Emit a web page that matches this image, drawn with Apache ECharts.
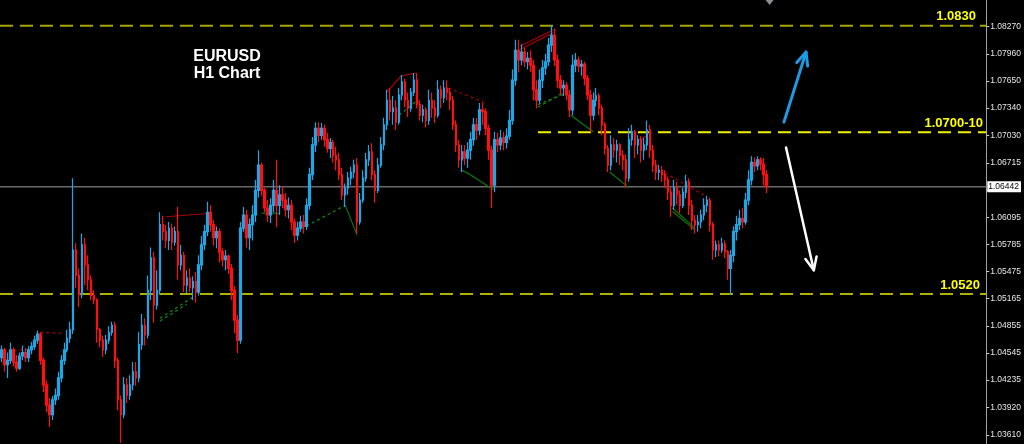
<!DOCTYPE html>
<html><head><meta charset="utf-8">
<script src="https://cdn.jsdelivr.net/npm/echarts@6/dist/echarts.min.js"></script>
<style>html,body{margin:0;padding:0;background:#000;}#c{width:1024px;height:444px;}</style>
</head><body><div id="c"></div>
<script>
// EURUSD H1 candles: [open, close, low, high]
const ohlc = [
[1.0449,1.0458,1.0444,1.0463],[1.0458,1.0441,1.0433,1.0460],[1.0441,1.0446,1.0426,1.0455],[1.0446,1.0458,1.0442,1.0466],
[1.0458,1.0444,1.0439,1.0461],[1.0444,1.0437,1.0433,1.0452],[1.0437,1.0451,1.0435,1.0455],[1.0451,1.0455,1.0446,1.0463],
[1.0455,1.0449,1.0444,1.0460],[1.0449,1.0458,1.0444,1.0462],[1.0458,1.0462,1.0453,1.0467],[1.0462,1.0469,1.0458,1.0474],
[1.0469,1.0476,1.0465,1.0480],[1.0476,1.0446,1.0441,1.0478],[1.0446,1.0418,1.0410,1.0449],[1.0418,1.0395,1.0387,1.0423],
[1.0395,1.0384,1.0370,1.0403],[1.0384,1.0401,1.0378,1.0405],[1.0401,1.0406,1.0395,1.0414],[1.0406,1.0426,1.0401,1.0433],
[1.0426,1.0446,1.0421,1.0452],[1.0446,1.0458,1.0441,1.0466],[1.0458,1.0471,1.0455,1.0481],[1.0471,1.0481,1.0466,1.0490],
[1.0481,1.0572,1.0476,1.0654],[1.0572,1.0543,1.0529,1.0580],[1.0543,1.0521,1.0507,1.0551],[1.0521,1.0578,1.0517,1.0591],
[1.0578,1.0555,1.0532,1.0586],[1.0555,1.0538,1.0526,1.0566],[1.0538,1.0520,1.0515,1.0543],[1.0520,1.0515,1.0510,1.0526],
[1.0515,1.0481,1.0466,1.0517],[1.0481,1.0469,1.0461,1.0483],[1.0469,1.0458,1.0450,1.0474],[1.0458,1.0469,1.0453,1.0475],
[1.0469,1.0478,1.0465,1.0485],[1.0478,1.0486,1.0474,1.0490],[1.0486,1.0446,1.0437,1.0490],[1.0446,1.0401,1.0389,1.0449],
[1.0401,1.0384,1.0352,1.0406],[1.0384,1.0418,1.0380,1.0427],[1.0418,1.0406,1.0397,1.0426],[1.0406,1.0418,1.0401,1.0429],
[1.0418,1.0433,1.0412,1.0444],[1.0433,1.0426,1.0417,1.0444],[1.0426,1.0464,1.0421,1.0478],[1.0464,1.0486,1.0458,1.0499],
[1.0486,1.0475,1.0463,1.0494],[1.0475,1.0526,1.0471,1.0543],[1.0526,1.0563,1.0515,1.0575],[1.0563,1.0509,1.0489,1.0570],
[1.0509,1.0526,1.0504,1.0549],[1.0526,1.0601,1.0521,1.0615],[1.0601,1.0593,1.0583,1.0611],[1.0593,1.0583,1.0574,1.0601],
[1.0583,1.0597,1.0572,1.0604],[1.0597,1.0581,1.0572,1.0602],[1.0581,1.0593,1.0577,1.0599],[1.0593,1.0555,1.0538,1.0621],
[1.0555,1.0566,1.0549,1.0578],[1.0566,1.0532,1.0524,1.0570],[1.0532,1.0540,1.0523,1.0549],[1.0540,1.0529,1.0524,1.0551],
[1.0529,1.0536,1.0515,1.0542],[1.0536,1.0524,1.0512,1.0547],[1.0524,1.0555,1.0520,1.0566],[1.0555,1.0578,1.0549,1.0588],
[1.0578,1.0593,1.0572,1.0601],[1.0593,1.0615,1.0588,1.0627],[1.0615,1.0601,1.0593,1.0623],[1.0601,1.0586,1.0577,1.0606],
[1.0586,1.0593,1.0574,1.0599],[1.0593,1.0570,1.0558,1.0597],[1.0570,1.0561,1.0553,1.0574],[1.0561,1.0565,1.0549,1.0572],
[1.0565,1.0551,1.0545,1.0567],[1.0551,1.0526,1.0515,1.0556],[1.0526,1.0492,1.0477,1.0531],[1.0492,1.0469,1.0454,1.0498],
[1.0469,1.0597,1.0465,1.0604],[1.0597,1.0612,1.0593,1.0621],[1.0612,1.0586,1.0575,1.0618],[1.0586,1.0601,1.0572,1.0608],
[1.0601,1.0612,1.0583,1.0623],[1.0612,1.0640,1.0604,1.0652],[1.0640,1.0669,1.0632,1.0686],[1.0669,1.0640,1.0634,1.0672],
[1.0640,1.0620,1.0615,1.0643],[1.0620,1.0612,1.0604,1.0629],[1.0612,1.0623,1.0603,1.0631],[1.0623,1.0640,1.0615,1.0652],
[1.0640,1.0623,1.0598,1.0675],[1.0623,1.0635,1.0612,1.0646],[1.0635,1.0629,1.0620,1.0645],[1.0629,1.0618,1.0610,1.0637],
[1.0618,1.0623,1.0608,1.0632],[1.0623,1.0604,1.0595,1.0629],[1.0604,1.0589,1.0580,1.0608],[1.0589,1.0597,1.0583,1.0604],
[1.0597,1.0604,1.0593,1.0611],[1.0604,1.0599,1.0591,1.0612],[1.0599,1.0623,1.0595,1.0631],[1.0623,1.0658,1.0618,1.0666],
[1.0658,1.0692,1.0652,1.0701],[1.0692,1.0711,1.0684,1.0718],[1.0711,1.0703,1.0695,1.0718],[1.0703,1.0711,1.0698,1.0717],
[1.0711,1.0698,1.0690,1.0715],[1.0698,1.0688,1.0683,1.0706],[1.0688,1.0695,1.0677,1.0700],[1.0695,1.0680,1.0672,1.0698],
[1.0680,1.0675,1.0663,1.0690],[1.0675,1.0658,1.0652,1.0683],[1.0658,1.0635,1.0629,1.0666],[1.0635,1.0643,1.0621,1.0648],
[1.0643,1.0654,1.0635,1.0661],[1.0654,1.0661,1.0646,1.0667],[1.0661,1.0669,1.0654,1.0675],[1.0669,1.0604,1.0591,1.0677],
[1.0604,1.0629,1.0601,1.0637],[1.0629,1.0654,1.0626,1.0663],[1.0654,1.0675,1.0650,1.0683],[1.0675,1.0684,1.0668,1.0692],
[1.0684,1.0658,1.0652,1.0694],[1.0658,1.0640,1.0626,1.0663],[1.0640,1.0669,1.0637,1.0677],[1.0669,1.0692,1.0666,1.0701],
[1.0692,1.0715,1.0686,1.0723],[1.0715,1.0743,1.0709,1.0755],[1.0743,1.0730,1.0720,1.0757],[1.0730,1.0734,1.0715,1.0748],
[1.0734,1.0718,1.0709,1.0743],[1.0718,1.0749,1.0715,1.0757],[1.0749,1.0764,1.0743,1.0772],[1.0764,1.0743,1.0735,1.0768],
[1.0743,1.0734,1.0724,1.0752],[1.0734,1.0752,1.0730,1.0757],[1.0752,1.0766,1.0748,1.0774],[1.0766,1.0738,1.0734,1.0774],
[1.0738,1.0726,1.0720,1.0743],[1.0726,1.0732,1.0718,1.0738],[1.0732,1.0720,1.0712,1.0735],[1.0720,1.0743,1.0715,1.0755],
[1.0743,1.0734,1.0723,1.0752],[1.0734,1.0726,1.0717,1.0743],[1.0726,1.0755,1.0723,1.0766],[1.0755,1.0746,1.0734,1.0760],
[1.0746,1.0757,1.0740,1.0766],[1.0757,1.0752,1.0743,1.0766],[1.0752,1.0743,1.0732,1.0757],[1.0743,1.0715,1.0709,1.0748],
[1.0715,1.0692,1.0684,1.0720],[1.0692,1.0675,1.0666,1.0698],[1.0675,1.0684,1.0661,1.0692],[1.0684,1.0677,1.0669,1.0692],
[1.0677,1.0686,1.0666,1.0695],[1.0686,1.0698,1.0675,1.0707],[1.0698,1.0715,1.0691,1.0723],[1.0715,1.0709,1.0698,1.0723],
[1.0709,1.0732,1.0703,1.0740],[1.0732,1.0730,1.0715,1.0740],[1.0730,1.0711,1.0703,1.0734],[1.0711,1.0686,1.0675,1.0715],
[1.0686,1.0646,1.0620,1.0691],[1.0646,1.0698,1.0638,1.0707],[1.0698,1.0692,1.0684,1.0706],[1.0692,1.0700,1.0686,1.0709],
[1.0700,1.0695,1.0686,1.0707],[1.0695,1.0702,1.0688,1.0711],[1.0702,1.0720,1.0698,1.0732],[1.0720,1.0766,1.0715,1.0778],
[1.0766,1.0800,1.0760,1.0812],[1.0800,1.0789,1.0775,1.0812],[1.0789,1.0798,1.0783,1.0807],[1.0798,1.0787,1.0781,1.0803],
[1.0787,1.0791,1.0778,1.0798],[1.0791,1.0783,1.0775,1.0800],[1.0783,1.0755,1.0743,1.0789],[1.0755,1.0743,1.0734,1.0766],
[1.0743,1.0766,1.0739,1.0778],[1.0766,1.0780,1.0757,1.0789],[1.0780,1.0787,1.0772,1.0796],[1.0787,1.0806,1.0782,1.0814],
[1.0806,1.0817,1.0798,1.0829],[1.0817,1.0789,1.0782,1.0825],[1.0789,1.0766,1.0757,1.0795],[1.0766,1.0757,1.0749,1.0772],
[1.0757,1.0760,1.0748,1.0766],[1.0760,1.0749,1.0743,1.0764],[1.0749,1.0732,1.0724,1.0755],[1.0732,1.0783,1.0726,1.0795],
[1.0783,1.0789,1.0775,1.0797],[1.0789,1.0782,1.0775,1.0793],[1.0782,1.0784,1.0771,1.0789],[1.0784,1.0768,1.0760,1.0787],
[1.0768,1.0749,1.0743,1.0772],[1.0749,1.0726,1.0707,1.0755],[1.0726,1.0743,1.0720,1.0752],[1.0743,1.0748,1.0736,1.0757],
[1.0748,1.0734,1.0726,1.0751],[1.0734,1.0715,1.0703,1.0738],[1.0715,1.0688,1.0681,1.0718],[1.0688,1.0669,1.0661,1.0692],
[1.0669,1.0692,1.0663,1.0703],[1.0692,1.0686,1.0677,1.0700],[1.0686,1.0692,1.0672,1.0698],[1.0692,1.0680,1.0669,1.0694],
[1.0680,1.0675,1.0663,1.0686],[1.0675,1.0654,1.0643,1.0681],[1.0654,1.0698,1.0650,1.0711],[1.0698,1.0707,1.0691,1.0715],
[1.0707,1.0692,1.0677,1.0709],[1.0692,1.0698,1.0681,1.0703],[1.0698,1.0686,1.0672,1.0702],[1.0686,1.0692,1.0675,1.0700],
[1.0692,1.0709,1.0686,1.0720],[1.0709,1.0686,1.0677,1.0715],[1.0686,1.0669,1.0661,1.0692],[1.0669,1.0661,1.0652,1.0675],
[1.0661,1.0663,1.0652,1.0669],[1.0663,1.0658,1.0650,1.0668],[1.0658,1.0652,1.0643,1.0663],[1.0652,1.0638,1.0629,1.0656],
[1.0638,1.0623,1.0610,1.0643],[1.0623,1.0643,1.0618,1.0652],[1.0643,1.0635,1.0624,1.0650],[1.0635,1.0623,1.0614,1.0640],
[1.0623,1.0638,1.0620,1.0643],[1.0638,1.0650,1.0631,1.0658],[1.0650,1.0623,1.0612,1.0654],[1.0623,1.0606,1.0595,1.0629],
[1.0606,1.0601,1.0591,1.0612],[1.0601,1.0604,1.0593,1.0612],[1.0604,1.0612,1.0597,1.0618],[1.0612,1.0623,1.0606,1.0631],
[1.0623,1.0629,1.0615,1.0634],[1.0629,1.0601,1.0593,1.0632],[1.0601,1.0572,1.0561,1.0604],[1.0572,1.0578,1.0564,1.0583],
[1.0578,1.0572,1.0565,1.0583],[1.0572,1.0579,1.0569,1.0586],[1.0579,1.0570,1.0563,1.0583],[1.0570,1.0551,1.0538,1.0572],
[1.0551,1.0566,1.0521,1.0572],[1.0566,1.0593,1.0558,1.0599],[1.0593,1.0601,1.0583,1.0611],[1.0601,1.0608,1.0595,1.0618],
[1.0608,1.0604,1.0597,1.0620],[1.0604,1.0629,1.0601,1.0637],[1.0629,1.0652,1.0623,1.0663],[1.0652,1.0672,1.0646,1.0679],
[1.0672,1.0668,1.0661,1.0678],[1.0668,1.0675,1.0663,1.0679],[1.0675,1.0670,1.0663,1.0678],[1.0670,1.0658,1.0646,1.0677],
[1.0658,1.06442,1.0637,1.0663]
];
const slotCount = 330;            // hourly slots on the time axis (incl. right chart shift)
const yTickValues = [1.08270,1.07960,1.07650,1.07340,1.07030,1.06715,1.06405,1.06095,1.05785,1.05475,1.05165,1.04855,1.04545,1.04235,1.03920,1.03610];
const yMin = 1.03505, yMax = 1.08575;
const bidPrice = 1.06442;
const levelValues = [1.0828, 1.07064, 1.05218];
const levelLabels = ['1.0830', '1.0700-10', '1.0520'];
const levelStartSlot = [-0.5, 179.5, -0.5];
// indicator trend lines: [slot, price] points
const redSolid = [
 [[55,1.0610],[70,1.0614]],
 [[128.8,1.0752],[133.8,1.0771],[138.5,1.0774]],
 [[173.5,1.0805],[184.5,1.0823]],
 [[173.5,1.0801],[184.5,1.0820]],
 [[213.5,1.0698],[216.2,1.0703]]
];
const redDashed = [
 [[4,1.0458],[10,1.0458]],
 [[13,1.0478],[20.5,1.0477]],
 [[149.5,1.0757],[162,1.0740]],
 [[222,1.0660],[236,1.0633]]
];
const greenSolid = [
 [[87,1.0614],[93,1.0614]],
 [[115,1.0623],[119,1.0589]],
 [[154,1.0663],[156,1.0660],[164.5,1.0641]],
 [[190.5,1.0726],[198,1.0707]],
 [[203.5,1.0661],[210,1.0643]],
 [[224.5,1.0620],[232,1.0597]],
 [[224.5,1.0616],[232,1.0595]]
];
const greenDashed = [
 [[53,1.0494],[64,1.0518]],
 [[53,1.0491],[62,1.0510]],
 [[98.5,1.0593],[115,1.0623]],
 [[133,1.0726],[138.5,1.0741]],
 [[179.5,1.0738],[189.5,1.0752]],
 [[179.5,1.0735],[187,1.0750]]
];
const arrowUp = [[261.8,1.0718],[269.2,1.0798]];
const arrowDown = [[262.5,1.0689],[271.8,1.0549]];
const titleLines = ['EURUSD', 'H1 Chart'];

const categories = Array.from({length: slotCount}, (_, i) => String(i));

const chart = echarts.init(document.getElementById('c'), null, {renderer: 'canvas'});
const BULL = '#1ea7e6', BEAR = '#ff1010';
function trend(list, color, type, width) {
  return list.map(pts => ({
    type: 'line', xAxisIndex: 1, yAxisIndex: 0, data: pts, symbol: 'none', silent: true,
    lineStyle: {color: color, width: width, type: type}, z: 4, animation: false
  }));
}
const levelColors = ['#a6a600', '#f2f200', '#b0b000'];
const levelSeries = levelValues.map((v, k) => ({
  type: 'line', xAxisIndex: 1, yAxisIndex: 0, symbol: 'none', silent: true, animation: false,
  data: [[levelStartSlot[k], v], [slotCount - 0.5, v]],
  lineStyle: {color: levelColors[k], width: 2, type: [13, 7]}, z: 3
}));
const option = {
  backgroundColor: '#000000',
  animation: false,
  grid: {left: 0, right: 34, top: 0, bottom: 0, containLabel: false},
  xAxis: [
    {type: 'category', data: categories, boundaryGap: true, show: false},
    {type: 'value', min: -0.5, max: slotCount - 0.5, show: false}
  ],
  yAxis: {
    type: 'value', position: 'right', min: yMin, max: yMax, scale: true,
    splitLine: {show: false},
    axisLine: {show: true, onZero: false, lineStyle: {color: '#a0a0a0', width: 1}},
    axisTick: {show: true, length: 3, inside: false, customValues: yTickValues, lineStyle: {color: '#c8c8c8'}},
    axisLabel: {show: true, customValues: yTickValues, margin: 4, color: '#e6e6e6',
      fontFamily: 'Liberation Sans', fontSize: 8.5, formatter: v => v.toFixed(5)}
  },
  series: [
    {
      type: 'candlestick', xAxisIndex: 0, yAxisIndex: 0, data: ohlc, barWidth: 2, z: 5,
      itemStyle: {color: BULL, color0: BEAR, borderColor: BULL, borderColor0: BEAR, borderWidth: 1.2}
    },
    ...levelSeries,
    {
      type: 'line', xAxisIndex: 1, yAxisIndex: 0, symbol: 'none', silent: true, clip: false, z: 3,
      data: [[-0.5, bidPrice], [slotCount - 0.5, bidPrice]],
      lineStyle: {color: '#6a6a6a', width: 1.5},
      endLabel: {show: true, formatter: () => bidPrice.toFixed(5), color: '#000', backgroundColor: '#ffffff',
        fontFamily: 'Liberation Sans', fontSize: 8.5, padding: [1, 2, 1, 1], distance: 1}
    },
    ...trend(redSolid, '#a80000', 'solid', 1.2),
    ...trend(redDashed, '#a00000', [3, 3], 1.2),
    ...trend(greenSolid, '#0a7a0a', 'solid', 1.2),
    ...trend(greenDashed, '#108a10', [3, 3], 1.2)
  ]
};
chart.setOption(option);

function px(p) { return chart.convertToPixel({xAxisIndex: 1, yAxisIndex: 0}, p); }
function arrow(pts, color, w) {
  const a = px(pts[0]), b = px(pts[1]);
  const dx = a[0] - b[0], dy = a[1] - b[1], L = Math.hypot(dx, dy);
  const ux = dx / L, uy = dy / L, ang = 24 * Math.PI / 180, hl = 14;
  const r = (s) => [b[0] + hl * (ux * Math.cos(s) - uy * Math.sin(s)), b[1] + hl * (ux * Math.sin(s) + uy * Math.cos(s))];
  const st = {stroke: color, lineWidth: w, lineCap: 'round', lineJoin: 'round', fill: null};
  return [
    {type: 'polyline', shape: {points: [a, b]}, style: st, z: 100, silent: true},
    {type: 'polyline', shape: {points: [r(ang), b, r(-ang)]}, style: st, z: 100, silent: true}
  ];
}
const graphics = [];
graphics.push(...arrow(arrowUp, '#1e9be6', 3));
graphics.push(...arrow(arrowDown, '#ffffff', 2.5));
const labelRight = [976, 983, 980];
levelValues.forEach((v, k) => {
  const y = px([0, v])[1];
  graphics.push({type: 'text', x: labelRight[k], y: y - 9, z: 100, silent: true,
    style: {text: levelLabels[k], fill: '#ffff00', font: 'bold 13px "Liberation Sans"', align: 'right', verticalAlign: 'middle'}});
});
titleLines.forEach((t, k) => {
  graphics.push({type: 'text', x: 227, y: 57 + k * 17, z: 100, silent: true,
    style: {text: t, fill: '#ffffff', font: 'bold 16px "Liberation Sans"', align: 'center', verticalAlign: 'middle'}});
});
const lastX = px([ohlc.length - 1 + 1, 0])[0];
graphics.push({type: 'polygon', shape: {points: [[lastX - 4, 0], [lastX + 4, 0], [lastX, 5]]}, style: {fill: '#8c8c96'}, z: 100, silent: true});
chart.setOption({graphic: graphics});
</script>
</body></html>
